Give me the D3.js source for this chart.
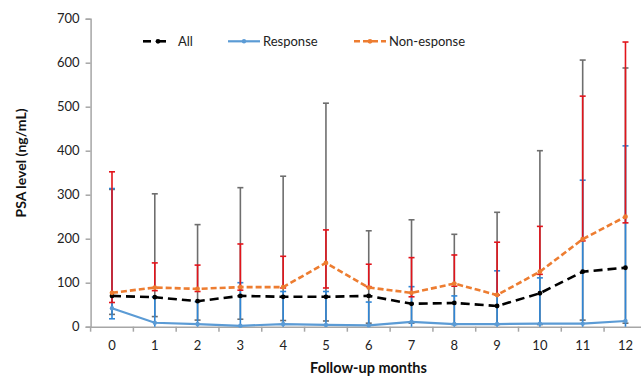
<!DOCTYPE html>
<html>
<head>
<meta charset="utf-8">
<script src="https://cdn.jsdelivr.net/npm/d3@7"></script>
<style>
  body { margin: 0; background: #fff; }
  text { font-family: Lato, "Open Sans", sans-serif; }
</style>
</head>
<body>
<div id="chart"></div>
<script>
// data
const months = [0, 1, 2, 3, 4, 5, 6, 7, 8, 9, 10, 11, 12]
const allMean = [70, 67, 58, 70, 68, 68, 70, 52, 54, 47, 76, 125, 134]
const allHi = [312, 302, 232, 316, 342, 508, 218, 243, 210, 260, 400, 606, 588]
const allLo = [28, 23, 15, 17, 14, 13, 8, 8, 5, 5, 5, 15, 8]
const respMean = [42, 9, 6, 2, 6, 4, 3, 11, 6, 6, 7, 7, 13]
const respHi = [314, 68, 57, 100, 80, 80, 56, 91, 70, 127, 111, 333, 411]
const respLo = [18, 0, 0, 0, 0, 0, 0, 0, 0, 0, 0, 0, 0]
const nonMean = [77, 89, 86, 90, 90, 145, 89, 77, 98, 72, 125, 199, 250]
const nonHi = [352, 145, 140, 188, 160, 220, 142, 157, 163, 192, 228, 524, 647]
const nonLo = [55, 82, 80, 83, 88, 88, 91, 68, 92, 72, 119, 195, 236]
const yTicks = [0, 100, 200, 300, 400, 500, 600, 700]
const legendNames = ['All', 'Response', 'Non-esponse']

const W = 641, H = 377
const c_gray = '#6e6e6e', c_red = '#e2141b', c_blue = '#2f86d6'
const c_black = '#000', c_lblue = '#5b9bd5', c_orange = '#ed7d31'
const c_axis = '#a6a6a6'

const svg = d3.select('#chart').append('svg')
  .attr('width', W).attr('height', H)

let step = 42.79
let x = d3.scaleBand().domain(months).range([90.6, 90.6 + step * 13]).padding(0)
let cx = (m) => x(m) + x.bandwidth() / 2
let y = d3.scaleLinear().domain([0, 700]).range([326.7, 18.7])

// y axis
let yAxis = d3.axisLeft(y).tickValues(yTicks).tickSize(5).tickPadding(6)
let gy = svg.append('g').attr('transform', 'translate(90.6,0)').call(yAxis)
gy.select('.domain').attr('stroke', c_axis).attr('stroke-width', 1.5)
gy.selectAll('line').attr('stroke', c_axis).attr('stroke-width', 1.5)
gy.selectAll('text').style('font-size', '13px').attr('fill', '#222')

// x axis: labels centred, ticks on band edges
let xAxis = d3.axisBottom(x).tickSize(0).tickPadding(14)
let gx = svg.append('g').attr('transform', `translate(0,${y(0)})`).call(xAxis)
gx.select('.domain').attr('stroke', c_axis).attr('stroke-width', 1.5)
gx.selectAll('text').style('font-size', '13px').attr('fill', '#222')
gx.selectAll('.edge')
  .data(months.concat([13]))
  .enter()
  .append('line')
  .attr('x1', (m) => x.range()[0] + m * x.step())
  .attr('x2', (m) => x.range()[0] + m * x.step())
  .attr('y1', 0).attr('y2', 5)
  .attr('stroke', c_axis).attr('stroke-width', 1.5)

// error bars
function errBars (hi, lo, color) {
  let g = svg.append('g')
  months.forEach((m, i) => {
    let px = cx(m)
    g.append('line')
      .attr('x1', px).attr('x2', px)
      .attr('y1', y(hi[i])).attr('y2', y(lo[i]))
      .attr('stroke', color).attr('stroke-width', 1.6)
    ;[hi[i], lo[i]].forEach((v) => {
      if (v <= 0) return
      g.append('line')
        .attr('x1', px - 3).attr('x2', px + 3)
        .attr('y1', y(v)).attr('y2', y(v))
        .attr('stroke', color).attr('stroke-width', 1.6)
    })
  })
}
errBars(allHi, allLo, c_gray)
errBars(respHi, respLo, c_blue)
errBars(nonHi, nonLo, c_red)

// lines
let line = d3.line().x((d, i) => cx(months[i])).y((d) => y(d))
function series (vals, color, width, dash, r) {
  svg.append('path')
    .datum(vals)
    .attr('d', line)
    .attr('fill', 'none')
    .attr('stroke', color)
    .attr('stroke-width', width)
    .attr('stroke-dasharray', dash)
  svg.append('g').selectAll('circle')
    .data(vals)
    .enter()
    .append('circle')
    .attr('cx', (d, i) => cx(months[i]))
    .attr('cy', (d) => y(d))
    .attr('r', r)
    .attr('fill', color)
}
series(respMean, c_lblue, 2.2, null, 2.2)
series(allMean, c_black, 2.6, '9,5', 2.4)
series(nonMean, c_orange, 2.6, '6,3', 2.4)

// legend
let ly = 41.3
let lg = svg.append('g')
lg.append('line').attr('x1', 143).attr('x2', 151).attr('y1', ly).attr('y2', ly)
  .attr('stroke', c_black).attr('stroke-width', 2.6)
lg.append('line').attr('x1', 157).attr('x2', 166).attr('y1', ly).attr('y2', ly)
  .attr('stroke', c_black).attr('stroke-width', 2.6)
lg.append('circle').attr('cx', 158).attr('cy', ly).attr('r', 2.4).attr('fill', c_black)

lg.append('line').attr('x1', 228).attr('x2', 260).attr('y1', ly).attr('y2', ly)
  .attr('stroke', c_lblue).attr('stroke-width', 2.2)
lg.append('circle').attr('cx', 244).attr('cy', ly).attr('r', 2.2).attr('fill', c_lblue)

lg.append('line').attr('x1', 354).attr('x2', 386).attr('y1', ly).attr('y2', ly)
  .attr('stroke', c_orange).attr('stroke-width', 2.6).attr('stroke-dasharray', '6,3')
lg.append('circle').attr('cx', 370).attr('cy', ly).attr('r', 2.4).attr('fill', c_orange)

let lx = [178, 263, 389]
legendNames.forEach((n, i) => {
  lg.append('text').text(n)
    .attr('x', lx[i]).attr('y', ly + 4.6)
    .style('font-size', '13px').attr('fill', '#222')
})

// axis titles
svg.append('text')
  .text('PSA level (ng/mL)')
  .attr('transform', 'translate(26,163) rotate(-90)')
  .attr('text-anchor', 'middle')
  .style('font-size', '14px').style('font-weight', 'bold').attr('fill', '#111')

svg.append('text')
  .text('Follow-up months')
  .attr('x', 368.5).attr('y', 373)
  .attr('text-anchor', 'middle')
  .style('font-size', '14.5px').style('font-weight', 'bold').attr('fill', '#111')
</script>
</body>
</html>
